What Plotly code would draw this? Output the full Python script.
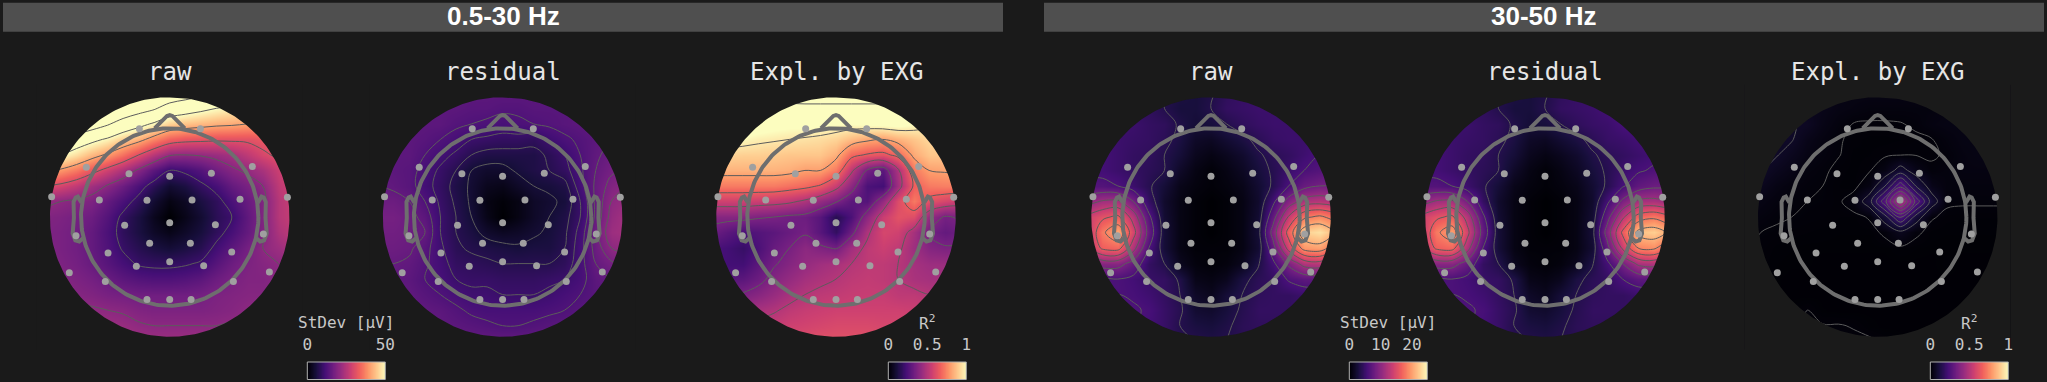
import numpy as np
import plotly.graph_objects as go
from plotly.colors import sequential

BG = "#1a1a1a"
W, H = 2047, 382

# Sensor positions in head radii
sensor_x = [-0.342,0.346,-0.94,-0.459,0,0.47,0.932,-1.331,-0.793,-0.256,0.252,0.793,1.327,-0.508,0,0.515,-1.056,1.056,-0.226,0.233,-0.695,-0.376,0,0.383,0.699,-1.132,1.124,-0.726,0.718,-0.256,0,0.241]
sensor_y = [0.996,0.996,0.56,0.489,0.459,0.492,0.568,0.229,0.192,0.188,0.192,0.199,0.222,-0.094,-0.064,-0.086,-0.211,-0.192,-0.297,-0.297,-0.406,-0.556,-0.504,-0.549,-0.395,-0.628,-0.62,-0.726,-0.726,-0.929,-0.929,-0.929]

nose_x = [-0.17,-0.03,0,0.03,0.17]
nose_y = [1.0,1.14,1.15,1.14,1.0]
ear_x = [0.994,1.02,1.036,1.06,1.084,1.08,1.094,1.064,1.02,0.978]
ear_y = [0.16,0.215,0.23,0.22,0.17,-0.011,-0.186,-0.263,-0.277,-0.24]

grid_17 = [-1.4,-1.225,-1.05,-0.875,-0.7,-0.525,-0.35,-0.175,0,0.175,0.35,0.525,0.7,0.875,1.05,1.225,1.4]
grid_18 = [-1.494,-1.319,-1.144,-0.969,-0.794,-0.619,-0.444,-0.269,-0.094,0.081,0.256,0.431,0.606,0.781,0.956,1.131,1.306,1.481]
row_y = [1.4,1.225,1.05,0.875,0.7,0.525,0.35,0.175,0,-0.175,-0.35,-0.525,-0.7,-0.875,-1.05,-1.225,-1.4]

# Values as percent of the colour range, rows from top to bottom
low_raw = [
[170,170,170,165,160,155,150,145,135,130,125,120,115,110,105,100,95],
[160,160,155,150,145,135,128,122,112,108,104,100,97,93,90,85,80],
[150,145,140,130,122,112,105,98,90,87,85,83,82,80,78,75,72],
[125,118,110,104,98,90,84,75,67,64,63,62,62,62,64,66,68],
[105,100,93,85,78,70,60,50,41,40,41,43,46,52,58,62,65],
[82,78,72,64,56,48,38,28,20,22,26,33,38,42,47,55,60],
[60,57,52,45,39,32,24,16,9,12,18,23,30,35,40,52,57],
[42,40,38,36,30,24,17,9,3,6,12,17,24,31,37,50,55],
[37,36,34,32,26,18,12,5,0,4,9,16,20,29,37,50,54],
[36,35,33,30,24,17,12,7,4,7,11,17,23,30,37,48,52],
[37,35,33,30,25,19,15,12,10,12,15,22,28,34,40,44,48],
[38,36,34,31,27,23,19,18,18,19,21,27,32,36,38,40,42],
[40,38,36,34,31,28,26,25,25,26,28,32,35,37,37,39,40],
[42,40,38,37,35,34,33,33,33,33,34,36,37,38,38,39,40],
[44,43,42,41,40,39,37,36,36,36,36,37,38,40,41,41,42],
[46,46,45,44,44,43,41,40,40,40,40,40,41,42,43,44,44],
[48,48,47,47,47,46,45,44,44,44,44,44,44,45,45,46,46],
]
low_resid = [
[28,28,28,28,28,28,28,28,28,28,28,28,28,28,28,28,28],
[28,28,28,28,28,28,27,27,26,26,27,27,27,28,28,29,30],
[28,28,28,28,28,26,25,24,23,24,25,26,27,28,29,30,30],
[28,28,28,27,25,23,20,19,18,18,17,21,24,26,28,30,31],
[28,28,28,25,22,19,15,13,13,13,13,16,20,25,29,32,32],
[28,28,27,23,19,15,10,8,8,11,13,15,18,24,30,34,35],
[30,29,27,22,18,13,9,5,4,7,10,11,13,23,31,37,40],
[32,32,30,25,19,14,9,3,1,3,7,9,11,20,31,40,43],
[34,34,32,28,20,15,10,4,0,3,7,10,13,20,31,42,46],
[33,33,32,30,20,15,12,8,6,7,9,11,14,22,33,44,46],
[32,32,31,27,21,16,14,13,12,11,12,12,15,23,32,40,42],
[30,30,29,26,22,18,17,16,15,15,15,15,17,23,30,34,36],
[29,29,28,25,23,20,19,19,18,18,18,19,20,23,28,30,31],
[29,29,29,27,25,23,21,21,20,20,20,21,23,25,27,28,29],
[29,29,29,29,28,26,24,23,23,23,23,24,25,27,28,29,29],
[30,30,30,29,29,28,27,26,25,25,26,27,28,28,29,29,30],
[31,31,31,31,31,31,30,30,30,30,30,31,31,31,31,31,31],
]
low_expl = [
[120,120,120,118,116,115,115,115,115,115,115,115,114,112,110,108,106],
[120,118,115,112,110,108,108,108,108,108,108,108,108,106,104,102,100],
[110,110,108,105,103,102,102,101,100,100,101,102,103,100,96,94,92],
[100,100,99,97,96,95,94,93,91,86,82,80,84,88,92,90,88],
[92,91,90,90,89,88,88,88,83,68,64,62,68,82,88,88,88],
[84,84,84,84,84,83,80,80,72,52,34,28,48,72,80,81,82],
[72,72,72,72,72,70,68,64,54,40,24,22,45,66,72,73,73],
[56,56,56,55,54,52,48,42,36,28,26,42,60,72,62,58,55],
[38,38,38,36,35,33,32,27,15,24,40,55,62,60,42,34,36],
[32,28,24,26,28,31,34,27,18,32,48,58,56,46,34,30,32],
[24,22,19,24,31,35,40,37,34,45,52,55,52,44,38,36,36],
[24,22,22,28,34,38,42,45,47,50,52,52,50,46,44,44,44],
[28,27,28,32,38,42,46,48,50,52,53,52,50,47,46,46,46],
[34,34,36,39,43,47,50,52,53,54,54,54,52,52,50,50,50],
[40,42,44,47,49,52,54,55,56,56,56,56,56,55,54,54,54],
[48,48,50,52,54,56,57,58,59,59,59,58,58,58,58,58,58],
[52,52,54,56,58,60,61,62,62,62,62,62,62,62,62,62,62],
]
high_raw = [
[18,18,18,18,16,14,12,11,13,17,19,20,20,20,20,20,20],
[18,18,18,18,17,14,11,11,14,18,19,20,20,20,20,20,20],
[20,20,20,20,18,17,13,10,11,14,17,19,20,20,20,20,20],
[22,22,20,19,18,16,12,7,6,9,12,16,19,20,20,22,22],
[22,22,20,18,17,14,10,5,3,5,8,13,16,18,21,24,24],
[22,22,20,18,16,14,7,3,1,3,6,11,15,20,24,26,28],
[26,26,24,20,15,10,4,2,1,2,4,9,15,24,31,34,34],
[40,45,46,34,18,8,3,1,0,1,3,8,22,38,48,50,48],
[56,62,66,50,26,9,3,1,0,1,3,9,30,55,72,76,70],
[52,72,82,58,30,10,3,1,0,1,3,10,38,68,90,94,85],
[50,66,68,48,24,10,3,1,1,1,3,9,30,58,78,80,68],
[35,38,38,30,18,14,5,2,1,2,5,13,22,36,48,50,40],
[26,24,24,22,19,18,13,4,3,5,12,16,18,25,28,28,26],
[24,24,24,23,21,18,14,7,5,10,14,17,18,18,20,20,20],
[22,24,25,25,23,19,15,9,8,11,15,18,18,18,18,18,18],
[20,22,24,24,22,19,14,12,11,13,16,17,17,17,17,17,17],
[18,18,20,20,20,18,15,14,13,14,15,16,16,16,16,16,16],
]
high_resid = [
[18,18,18,18,16,14,12,11,13,17,19,20,20,20,20,20,20],
[18,18,18,18,17,14,11,11,14,18,19,20,22,24,24,22,20],
[20,20,20,20,18,17,13,10,11,14,17,19,20,23,24,24,22],
[22,22,20,19,18,16,12,7,6,9,12,16,19,20,22,24,24],
[22,22,20,18,17,14,10,5,3,5,8,13,16,18,20,22,22],
[22,22,20,18,16,14,7,3,1,3,6,11,15,20,23,25,26],
[26,26,24,20,15,10,4,2,1,2,4,9,15,23,29,32,32],
[40,45,46,34,18,8,3,1,0,1,3,8,22,36,46,47,44],
[56,62,66,50,26,9,3,1,0,1,3,9,30,52,68,72,66],
[52,72,80,57,30,10,3,1,0,1,3,10,38,66,87,90,82],
[50,66,68,48,24,10,3,1,1,1,3,9,30,56,74,76,65],
[35,38,38,30,18,14,5,2,1,2,5,13,22,34,46,48,38],
[26,24,24,22,19,18,13,4,3,5,12,16,18,24,28,28,26],
[24,24,24,23,21,18,14,7,5,10,14,17,18,18,20,20,20],
[22,24,25,25,23,19,15,9,8,11,15,18,18,18,18,18,18],
[20,22,24,24,22,19,14,12,11,13,16,17,17,17,17,17,17],
[18,18,20,20,20,18,15,14,13,14,15,16,16,16,16,16,16],
]
high_expl = [
[5,5,5,5,5,4,3,3,3,3,3,3,3,3,3,3,3,3],
[6,6,6,6,5,4,3,2.5,2,2,2,2,2,2.5,3,3,3,3],
[7,7,7,7,6,3.5,2,1.1,1,1,1.1,1.5,2.5,3,3,3,3,3],
[7,7,7,7,4,2.5,1.4,0.8,0.6,0.6,0.7,0.9,1.1,2,3,3,3,3],
[8,8,7,5,3,2,1.3,0.6,0.7,0.9,1.1,1.1,1.0,1.4,2.5,3,3,3],
[8,7,5,3.5,2,1.5,0.8,0.6,1,3,9,4,1.5,2,2.5,2.5,2.5,2.5],
[7,5,3,2,1.5,1.2,0.7,0.5,3,12,27,12,4,2,2,2,2,2],
[5,3,2,1.5,1.2,1.1,0.8,2.5,10,27,48,27,10,1.5,1.4,1.4,1.4,1.4],
[3,2,1.4,1.2,1,0.9,0.7,0.6,1.4,10,24,10,1.4,0.8,0.7,0.7,0.7,0.7],
[2,1.2,1,0.8,0.7,0.6,0.5,0.5,0.5,1.6,5,1.6,0.6,0.5,0.5,0.5,0.5,0.5],
[1.4,1,0.6,0.5,0.4,0.4,0.4,0.4,0.4,0.4,0.7,0.5,0.4,0.4,0.4,0.4,0.4,0.4],
[1.3,0.8,0.5,0.4,0.4,0.3,0.3,0.3,0.3,0.3,0.3,0.3,0.3,0.6,0.3,0.3,0.3,0.3],
[1,0.6,0.4,0.3,0.3,0.3,0.3,0.3,0.3,0.3,0.3,0.3,0.3,0.3,0.3,0.3,0.3,0.3],
[0.8,0.6,0.4,0.3,0.3,0.3,0.3,0.3,0.3,0.3,0.3,0.3,0.3,0.3,0.3,0.3,0.3,0.3],
[0.8,0.6,0.5,0.5,1.2,0.4,0.3,0.3,0.3,0.3,0.3,0.3,0.3,0.3,0.3,0.3,0.3,0.3],
[1,1,1,1,1.3,1.3,1.3,1.1,0.5,0.3,0.3,0.3,0.3,0.3,0.3,0.3,0.3,0.3],
[1.5,1.5,1.5,1.5,1.5,1.5,1.5,1.5,1.5,1,0.5,0.3,0.3,0.3,0.3,0.3,0.3,0.3],
]

panel_titles = ["raw", "residual", "Expl. by EXG", "raw", "residual", "Expl. by EXG"]
band_titles = ["0.5-30 Hz", "30-50 Hz"]
centers_px = [169.7, 502.6, 836.0, 1211.0, 1545.0, 1877.7]
bar_left_px = [307.3, 888.3, 1349.3, 1930.3]
bar_titles = ["StDev [μV]", "R<sup>2</sup>", "StDev [μV]", "R<sup>2</sup>"]
bar_max = [50, 1, 24.9, 1]
bar_ticks = [[0, 50], [0, 0.5, 1], [0, 10, 20], [0, 0.5, 1]]
bar_ticktext = [["0", "50"], ["0", "0.5", "1"], ["0", "10", "20"], ["0", "0.5", "1"]]

maps = [(low_raw, grid_17), (low_resid, grid_17), (low_expl, grid_17),
        (high_raw, grid_17), (high_resid, grid_17), (high_expl, grid_18)]
levels = [(20, 130, 20), (10, 40, 5), (35, 110, 15), (14, 94, 10), (14, 94, 10), (1.2, 50, 5.5)]

MONO = "DejaVu Sans Mono"
TEXT = "#e6e6e6"
GREY = "#6e6e6e"
SCALE = sequential.Magma
R_MASK = 1.35
HALF = 1.5
PX_PER_UNIT = 88.7
CY = 217.0

fig = go.Figure()
layout = dict(
    width=W, height=H, margin=dict(l=0, r=0, t=0, b=0, autoexpand=False),
    paper_bgcolor=BG, plot_bgcolor=BG, showlegend=False,
    annotations=[], shapes=[],
)

th = np.linspace(0, 2 * np.pi, 241)
for i, ((rows, gx), lev, cx, title) in enumerate(zip(maps, levels, centers_px, panel_titles), start=1):
    xa, ya = f"x{i}", f"y{i}"
    half_px = HALF * PX_PER_UNIT
    layout[f"xaxis{i}"] = dict(domain=[(cx - half_px) / W, (cx + half_px) / W], range=[-HALF, HALF],
                               visible=False, anchor=ya, fixedrange=True, automargin=False)
    layout[f"yaxis{i}"] = dict(domain=[(H - CY - half_px) / H, (H - CY + half_px) / H], range=[-HALF, HALF],
                               visible=False, anchor=xa, fixedrange=True, automargin=False)
    z = np.array(rows[::-1], dtype=float)
    y = row_y[::-1]
    fig.add_trace(go.Heatmap(x=gx, y=y, z=z, zmin=0, zmax=100, colorscale=SCALE, zsmooth="best",
                             showscale=False, hoverinfo="skip", xaxis=xa, yaxis=ya))
    fig.add_trace(go.Contour(x=gx, y=y, z=z, showscale=False, hoverinfo="skip", xaxis=xa, yaxis=ya,
                             autocontour=False,
                             contours=dict(coloring="none", start=lev[0], end=lev[1], size=lev[2]),
                             line=dict(color="#5c5c5c", width=1, smoothing=1.0)))
    # background-coloured keyhole mask that leaves a disc of the map visible (opposite winding for the hole)
    mask_x = [-HALF, HALF, HALF, -HALF, -HALF, 0] + list(R_MASK * np.sin(th)) + [0, -HALF]
    mask_y = [-HALF, -HALF, HALF, HALF, R_MASK + 0.1, R_MASK] + list(R_MASK * np.cos(th)) + [R_MASK, R_MASK + 0.1]
    fig.add_trace(go.Scatter(x=mask_x, y=mask_y, mode="lines", fill="toself", fillcolor=BG,
                             line=dict(width=0, color=BG), hoverinfo="skip", xaxis=xa, yaxis=ya))
    head = dict(mode="lines", line=dict(color=GREY, width=4), hoverinfo="skip", xaxis=xa, yaxis=ya)
    fig.add_trace(go.Scatter(x=np.cos(th), y=np.sin(th), **head))
    fig.add_trace(go.Scatter(x=nose_x, y=nose_y, **head))
    fig.add_trace(go.Scatter(x=ear_x, y=ear_y, **head))
    fig.add_trace(go.Scatter(x=[-v for v in ear_x], y=ear_y, **head))
    fig.add_trace(go.Scatter(x=sensor_x, y=sensor_y, mode="markers", hoverinfo="skip", xaxis=xa, yaxis=ya,
                             marker=dict(color="#a0a0a0", size=7, line=dict(width=0))))
    layout["annotations"].append(dict(text=title, x=cx / W, y=(H - 72) / H, xref="paper", yref="paper",
                                      showarrow=False, xanchor="center", yanchor="middle",
                                      font=dict(family=MONO, size=24, color=TEXT)))

for k, (left, btitle, vmax, ticks, tt) in enumerate(zip(bar_left_px, bar_titles, bar_max, bar_ticks, bar_ticktext)):
    n = 7 + k
    xa, ya = f"x{n}", f"y{n}"
    layout[f"xaxis{n}"] = dict(domain=[left / W, (left + 78) / W], range=[0, vmax], side="top", anchor=ya,
                               tickmode="array", tickvals=ticks, ticktext=tt, ticks="outside", ticklen=5,
                               tickcolor="rgba(0,0,0,0)", tickfont=dict(family=MONO, size=16, color="#c8c8c8"),
                               showgrid=False, zeroline=False, showline=False, fixedrange=True, automargin=False)
    layout[f"yaxis{n}"] = dict(domain=[(H - 379.5) / H, (H - 362) / H], range=[0, 1], visible=False,
                               anchor=xa, fixedrange=True, automargin=False)
    fig.add_trace(go.Heatmap(x=np.linspace(0, vmax, 128), y=[0, 1], z=[np.linspace(0, 1, 128)] * 2, zmin=0, zmax=1,
                             colorscale=SCALE, showscale=False, hoverinfo="skip", zsmooth="best", xaxis=xa, yaxis=ya))
    layout["shapes"].append(dict(type="rect", xref=f"{xa} domain", yref=f"{ya} domain", x0=0, x1=1, y0=0, y1=1,
                                 line=dict(color="#b0b0b0", width=1), fillcolor="rgba(0,0,0,0)", layer="above"))
    layout["annotations"].append(dict(text=btitle, x=(left + 39) / W, y=(H - 322) / H, xref="paper", yref="paper",
                                      showarrow=False, xanchor="center", yanchor="middle",
                                      font=dict(family=MONO, size=16, color="#c8c8c8")))

for (x0, x1), t in zip([(3, 1003), (1044, 2044)], band_titles):
    layout["shapes"].append(dict(type="rect", xref="paper", yref="paper", x0=x0 / W, x1=x1 / W,
                                 y0=(H - 31.7) / H, y1=(H - 2.7) / H, fillcolor="#4f4f4f",
                                 line=dict(width=0), layer="below"))
    layout["annotations"].append(dict(text=f"<b>{t}</b>", x=(x0 + x1) / 2 / W, y=(H - 16.5) / H, xref="paper",
                                      yref="paper", showarrow=False, xanchor="center", yanchor="middle",
                                      font=dict(family="Liberation Sans", size=26, color="#ffffff")))

fig.update_layout(**layout)
fig.write_html("out.html", config=dict(displayModeBar=False, responsive=False),
               default_width=f"{W}px", default_height=f"{H}px",
               post_script="document.body.style.margin='0';document.body.style.background='#1a1a1a';document.body.style.overflow='hidden';"
                           "document.querySelectorAll('svg text').forEach(function(t){if(!t.textContent.trim())t.remove();});")
